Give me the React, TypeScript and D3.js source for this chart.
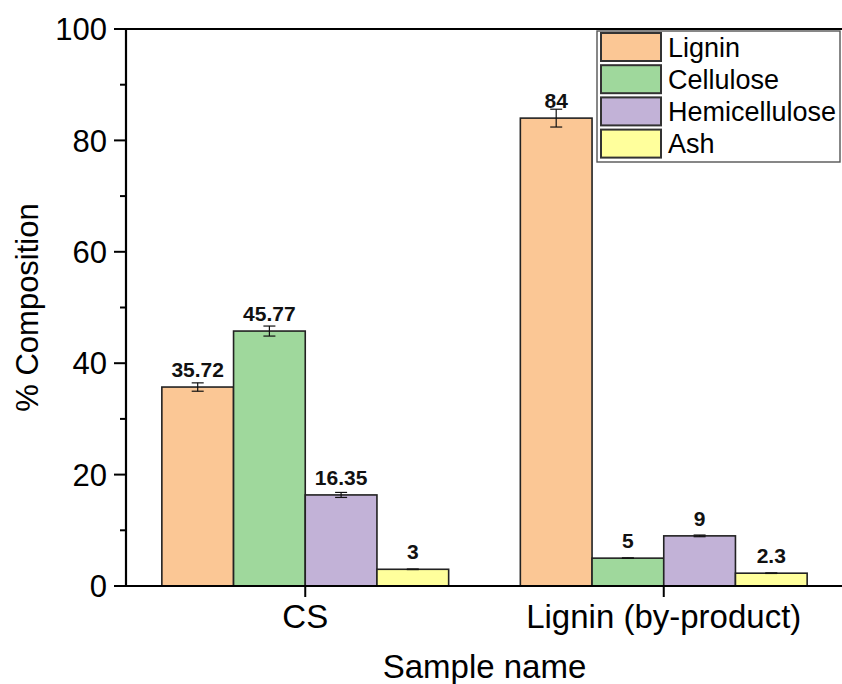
import React from "react";
import * as d3 from "d3";

// Sample groups and components
const categories: string[] = ["CS", "Lignin (by-product)"];
const components: string[] = ["Lignin", "Cellulose", "Hemicellulose", "Ash"];

// Composition (%) per component, in the order of `categories`
const ligninValues: number[] = [35.72, 84];
const celluloseValues: number[] = [45.77, 5];
const hemicelluloseValues: number[] = [16.35, 9];
const ashValues: number[] = [3, 2.3];

// Standard deviations per component
const ligninErrors: number[] = [0.75, 1.6];
const celluloseErrors: number[] = [0.9, 0.05];
const hemicelluloseErrors: number[] = [0.45, 0.15];
const ashErrors: number[] = [0.05, 0.05];

// Displayed value labels
const ligninLabels: string[] = ["35.72", "84"];
const celluloseLabels: string[] = ["45.77", "5"];
const hemicelluloseLabels: string[] = ["16.35", "9"];
const ashLabels: string[] = ["3", "2.3"];

const yTicks: number[] = [0, 20, 40, 60, 80, 100];
const yMinorTicks: number[] = [10, 30, 50, 70, 90];

const fills: Record<string, string> = {
  Lignin: "#FBC795",
  Cellulose: "#9FD89C",
  Hemicellulose: "#C2B2D7",
  Ash: "#FFFF9C",
};

const seriesValues = [ligninValues, celluloseValues, hemicelluloseValues, ashValues];
const seriesErrors = [ligninErrors, celluloseErrors, hemicelluloseErrors, ashErrors];
const seriesLabels = [ligninLabels, celluloseLabels, hemicelluloseLabels, ashLabels];

const W = 842;
const H = 684;
const left = 126;
const right = 843;
const top = 29;
const bottom = 586;
const FONT = "'Liberation Sans', Arial, Helvetica, sans-serif";

export default function App() {
  const y = d3.scaleLinear().domain([0, 100]).range([bottom, top]);
  const x0 = d3
    .scaleBand<string>()
    .domain(categories)
    .range([left, right])
    .paddingInner(0.2)
    .paddingOuter(0.1);
  const x1 = d3
    .scaleBand<string>()
    .domain(components)
    .range([0, x0.bandwidth()]);

  const capHalf = 6;

  return (
    <svg
      width={W}
      height={H}
      style={{ position: "absolute", left: 0, top: 0, background: "#fff" }}
      fontFamily={FONT}
    >
      <rect x={0} y={0} width={W} height={H} fill="#fff" />

      {/* bars */}
      {categories.map((cat, ci) =>
        components.map((comp, si) => {
          const v = seriesValues[si][ci];
          const bx = (x0(cat) ?? 0) + (x1(comp) ?? 0);
          return (
            <rect
              key={`${cat}-${comp}`}
              x={bx}
              y={y(v)}
              width={x1.bandwidth()}
              height={y(0) - y(v)}
              fill={fills[comp]}
              stroke="#222"
              strokeWidth={1.6}
            />
          );
        })
      )}

      {/* error bars */}
      {categories.map((cat, ci) =>
        components.map((comp, si) => {
          const v = seriesValues[si][ci];
          const e = seriesErrors[si][ci];
          const cx = (x0(cat) ?? 0) + (x1(comp) ?? 0) + x1.bandwidth() / 2;
          return (
            <g key={`err-${cat}-${comp}`} stroke="#111" strokeWidth={1.2}>
              <line x1={cx} x2={cx} y1={y(v + e)} y2={y(v - e)} />
              <line x1={cx - capHalf} x2={cx + capHalf} y1={y(v + e)} y2={y(v + e)} />
              <line x1={cx - capHalf} x2={cx + capHalf} y1={y(v - e)} y2={y(v - e)} />
            </g>
          );
        })
      )}

      {/* value labels */}
      {categories.map((cat, ci) =>
        components.map((comp, si) => {
          const v = seriesValues[si][ci];
          const cx = (x0(cat) ?? 0) + (x1(comp) ?? 0) + x1.bandwidth() / 2;
          return (
            <text
              key={`lab-${cat}-${comp}`}
              x={cx}
              y={y(v) - 10}
              textAnchor="middle"
              fontSize={21}
              fontWeight="bold"
              fill="#111"
            >
              {seriesLabels[si][ci]}
            </text>
          );
        })
      )}

      {/* axes frame */}
      <g stroke="#000" strokeWidth={2.2} fill="none" strokeLinecap="square">
        <line x1={left} x2={left} y1={top} y2={bottom} />
        <line x1={left} x2={W} y1={bottom} y2={bottom} />
        <line x1={left} x2={W} y1={top} y2={top} />
      </g>

      {/* y ticks */}
      {yTicks.map((t) => (
        <g key={`yt-${t}`}>
          <line x1={left - 12} x2={left} y1={y(t)} y2={y(t)} stroke="#000" strokeWidth={2} />
          <text
            x={left - 19}
            y={y(t)}
            dy="0.36em"
            textAnchor="end"
            fontSize={31}
            fill="#000"
          >
            {t}
          </text>
        </g>
      ))}
      {yMinorTicks.map((t) => (
        <line key={`ym-${t}`} x1={left - 6} x2={left} y1={y(t)} y2={y(t)} stroke="#000" strokeWidth={2} />
      ))}

      {/* x ticks */}
      {categories.map((cat) => {
        const cx = (x0(cat) ?? 0) + x0.bandwidth() / 2;
        return (
          <g key={`xt-${cat}`}>
            <line x1={cx} x2={cx} y1={bottom} y2={bottom + 11} stroke="#000" strokeWidth={2} />
            <text x={cx} y={bottom + 42} textAnchor="middle" fontSize={33} fill="#000">
              {cat}
            </text>
          </g>
        );
      })}

      {/* axis titles */}
      <text x={(left + right) / 2} y={678} textAnchor="middle" fontSize={33} fill="#000">
        Sample name
      </text>
      <text
        transform={`translate(38, ${(top + bottom) / 2}) rotate(-90)`}
        textAnchor="middle"
        fontSize={31}
        fill="#000"
      >
        % Composition
      </text>

      {/* legend */}
      <g>
        <rect x={597} y={31} width={243} height={131} fill="#fff" stroke="#555" strokeWidth={1.4} />
        {components.map((comp, i) => {
          const ry = 33 + i * 32.2;
          return (
            <g key={`leg-${comp}`}>
              <rect x={601} y={ry} width={60} height={28} fill={fills[comp]} stroke="#333" strokeWidth={2} />
              <text x={668} y={ry + 14} dy="0.36em" fontSize={27} fill="#000">
                {comp}
              </text>
            </g>
          );
        })}
      </g>
    </svg>
  );
}
